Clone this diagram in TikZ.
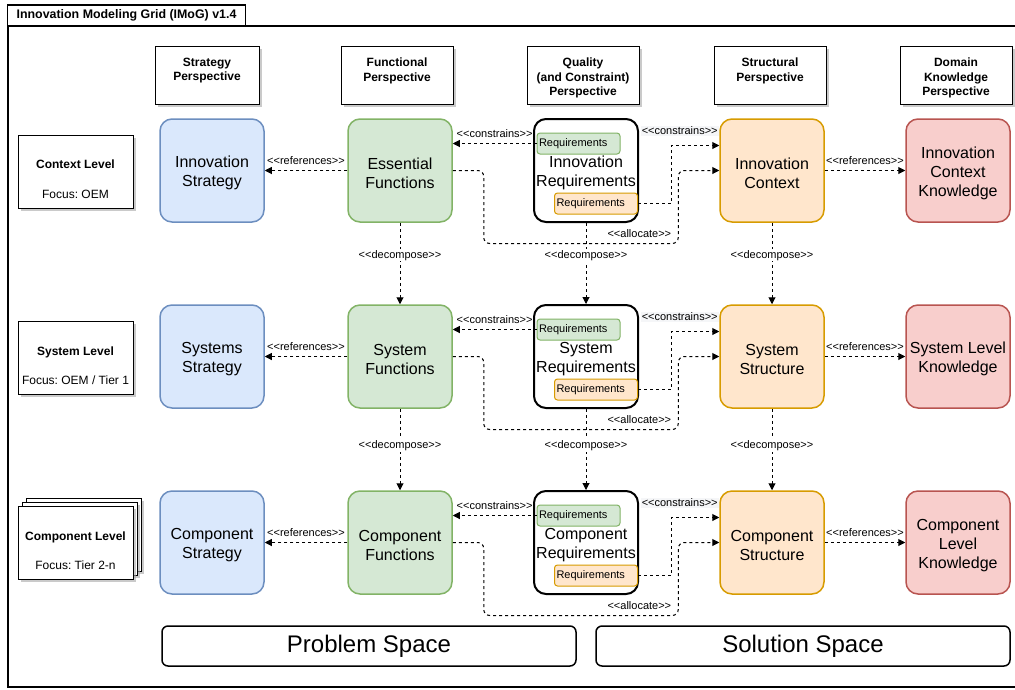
\documentclass[tikz,border=0pt]{standalone}
\usepackage{fontspec}
\setmainfont{Liberation Sans}
\usetikzlibrary{positioning,arrows.meta,shadows}

\definecolor{stratfill}{HTML}{DAE8FC}
\definecolor{stratline}{HTML}{6C8EBF}
\definecolor{funcfill}{HTML}{D5E8D4}
\definecolor{funcline}{HTML}{82B366}
\definecolor{strucfill}{HTML}{FFE6CC}
\definecolor{strucline}{HTML}{D79B00}
\definecolor{knowfill}{HTML}{F8CECC}
\definecolor{knowline}{HTML}{B85450}
\definecolor{lblback}{HTML}{F5F6F8}

\newcommand{\stereo}[1]{<\kern0pt<#1>\kern0pt>}
\newcommand{\hdtext}[1]{\parbox[c][34pt][t]{100pt}{\centering #1}}
\newcommand{\topgap}{\rule{0pt}{16.5pt}}
\frenchspacing

\begin{document}
\begin{tikzpicture}[x=1pt,y=-1pt,>={Triangle[length=7pt,width=7pt]},node distance=186pt,
    mainbox/.style={rounded corners=12pt,line width=1.5pt,minimum width=104pt,minimum height=103pt,inner xsep=1pt,align=center,font=\fontsize{16}{19}\selectfont},
    strat/.style={mainbox,draw=stratline,fill=stratfill},
    func/.style={mainbox,draw=funcline,fill=funcfill},
    qual/.style={mainbox,draw=black,fill=white,line width=2pt},
    struc/.style={mainbox,draw=strucline,fill=strucfill},
    know/.style={mainbox,draw=knowline,fill=knowfill},
    req/.style={rounded corners=3pt,line width=1pt,minimum height=21pt,text width=79pt,inner xsep=2pt,inner ysep=0pt,align=left,font=\fontsize{11}{13}\selectfont},
    reqf/.style={req,draw=funcline,fill=funcfill},
    reqs/.style={req,draw=strucline,fill=strucfill},
    shade/.style={drop shadow={shadow xshift=2.5pt,shadow yshift=-2.5pt,fill=black!35,opacity=.6}},
    hdr/.style={draw,fill=white,line width=1pt,minimum width=112pt,minimum height=58pt,inner sep=0pt,font=\fontsize{12}{14.5}\selectfont\bfseries,shade},
    lvl/.style={draw,fill=white,line width=1pt,minimum width=115pt,minimum height=73pt,inner xsep=1pt,align=center,font=\fontsize{12}{14}\selectfont,shade},
    spacebox/.style={draw,rounded corners=6pt,line width=1.5pt,minimum width=414pt,minimum height=40pt,font=\fontsize{24}{28}\selectfont},
    dep/.style={->,dash pattern=on 3pt off 3pt,line width=1pt},
    lbl/.style={inner sep=1pt,font=\fontsize{11}{13}\selectfont}]

    \useasboundingbox (0,0) rectangle (1015,689);
    \draw[line width=1.5pt] (8,26) rectangle (1018,687);
    \node[draw,fill=white,line width=1.5pt,minimum width=238pt,minimum height=21pt,inner sep=0pt,font=\fontsize{12.4}{14}\selectfont\bfseries] (title) at (126.5,15.5) {Innovation Modeling Grid (IMoG) v1.4};

    \node[hdr,minimum width=104pt] (h1) at (207,75) {\hdtext{Strategy\\Perspective}};
    \node[hdr] (h2) at (397,75) {\hdtext{Functional\\Perspective}};
    \node[hdr] (h3) at (583,75) {\hdtext{Quality\\(and Constraint)\\Perspective}};
    \node[hdr] (h4) at (770,75) {\hdtext{Structural\\Perspective}};
    \node[hdr] (h5) at (956,75) {\hdtext{Domain\\Knowledge\\Perspective}};

    \node[lvl] (l1) at (75.5,171.5) {\rule{0pt}{24pt}\textbf{Context Level}\\[15.5pt]Focus: OEM};
    \node[lvl] (l2) at (75.5,358) {\rule{0pt}{24pt}\textbf{System Level}\\[15.5pt]Focus: OEM / Tier 1};
    \node[lvl] (l3c) at (83.5,535) {};
    \node[lvl] (l3b) at (79.5,539) {};
    \node[lvl] (l3) at (75.5,543) {\rule{0pt}{24pt}\textbf{Component Level}\\[15.5pt]Focus: Tier 2-n};

    \node[strat] (s1) at (212,170.5) {\topgap Innovation\\Strategy};
    \node[func] (f1) [right of = s1, xshift = 2pt] {\topgap Essential\\Functions};
    \node[qual] (q1) [right of = f1] {\topgap Innovation\\Requirements};
    \node[struc] (c1) [right of = q1] {\topgap Innovation\\Context};
    \node[know] (k1) [right of = c1] {\topgap Innovation\\Context\\Knowledge};

    \node[strat] (s2) [below of = s1] {\topgap Systems\\Strategy};
    \node[func] (f2) [below of = f1] {\topgap System\\Functions};
    \node[qual] (q2) [below of = q1] {\topgap System\\Requirements};
    \node[struc] (c2) [below of = c1] {\topgap System\\Structure};
    \node[know] (k2) [below of = k1] {\topgap System Level\\Knowledge};

    \node[strat] (s3) [below of = s2] {\topgap Component\\Strategy};
    \node[func] (f3) [below of = f2] {\topgap Component\\Functions};
    \node[qual] (q3) [below of = q2] {\topgap Component\\Requirements};
    \node[struc] (c3) [below of = c2] {\topgap Component\\Structure};
    \node[know] (k3) [below of = k2] {\topgap Component\\Level\\Knowledge};

    \node[reqf] (g1) at ([xshift=-7.5pt,yshift=27pt]q1.center) {Requirements};
    \node[reqs] (o1) at ([xshift=10pt,yshift=-33pt]q1.center) {Requirements};
    \node[reqf] (g2) at ([xshift=-7.5pt,yshift=27pt]q2.center) {Requirements};
    \node[reqs] (o2) at ([xshift=10pt,yshift=-33pt]q2.center) {Requirements};
    \node[reqf] (g3) at ([xshift=-7.5pt,yshift=27pt]q3.center) {Requirements};
    \node[reqs] (o3) at ([xshift=10pt,yshift=-33pt]q3.center) {Requirements};

    \node[spacebox] (ps) at (369,646) {Problem Space};
    \node[spacebox] (ss) at (803,646) {Solution Space};

    \path[every edge/.append style={dep}]
        (f1.west) edge node[lbl, above=4pt]{\stereo{references}} (s1.east)
        (f2.west) edge node[lbl, above=4pt]{\stereo{references}} (s2.east)
        (f3.west) edge node[lbl, above=4pt]{\stereo{references}} (s3.east)
        (c1.east) edge node[lbl, above=4pt]{\stereo{references}} (k1.west)
        (c2.east) edge node[lbl, above=4pt]{\stereo{references}} (k2.west)
        (c3.east) edge node[lbl, above=4pt]{\stereo{references}} (k3.west)
        (g1.west) edge node[lbl, above=4pt]{\stereo{constrains}} (f1.east |- g1.west)
        (g2.west) edge node[lbl, above=4pt]{\stereo{constrains}} (f2.east |- g2.west)
        (g3.west) edge node[lbl, above=4pt]{\stereo{constrains}} (f3.east |- g3.west)
        (f1.south) edge node[lbl, fill=white, pos=.4]{\stereo{decompose}} (f2.north)
        (q1.south) edge node[lbl, fill=white, pos=.4]{\stereo{decompose}} (q2.north)
        (c1.south) edge node[lbl, fill=white, pos=.4]{\stereo{decompose}} (c2.north)
        (f2.south) edge node[lbl, fill=white, pos=.45]{\stereo{decompose}} (f3.north)
        (q2.south) edge node[lbl, fill=white, pos=.45]{\stereo{decompose}} (q3.north)
        (c2.south) edge node[lbl, fill=white, pos=.45]{\stereo{decompose}} (c3.north)
        ;

    \draw[dep] (o1.east) -- ++(33,0) |- node[lbl, pos=.59, above=9pt, fill=lblback]{\stereo{constrains}} ([yshift=25pt]c1.west);
    \draw[dep] (o2.east) -- ++(33,0) |- node[lbl, pos=.59, above=9pt, fill=lblback]{\stereo{constrains}} ([yshift=25pt]c2.west);
    \draw[dep] (o3.east) -- ++(33,0) |- node[lbl, pos=.59, above=9pt, fill=lblback]{\stereo{constrains}} ([yshift=25pt]c3.west);

    \draw[dep, rounded corners=6pt] (f1.east) -- ++(31,0) -- ++(0,73) -| node[lbl, pos=.4, above=4pt]{\stereo{allocate}} ([xshift=-41pt]c1.west) -- (c1.west);
    \draw[dep, rounded corners=6pt] (f2.east) -- ++(31,0) -- ++(0,73) -| node[lbl, pos=.4, above=4pt]{\stereo{allocate}} ([xshift=-41pt]c2.west) -- (c2.west);
    \draw[dep, rounded corners=6pt] (f3.east) -- ++(31,0) -- ++(0,73) -| node[lbl, pos=.4, above=4pt]{\stereo{allocate}} ([xshift=-41pt]c3.west) -- (c3.west);
\end{tikzpicture}
\end{document}
